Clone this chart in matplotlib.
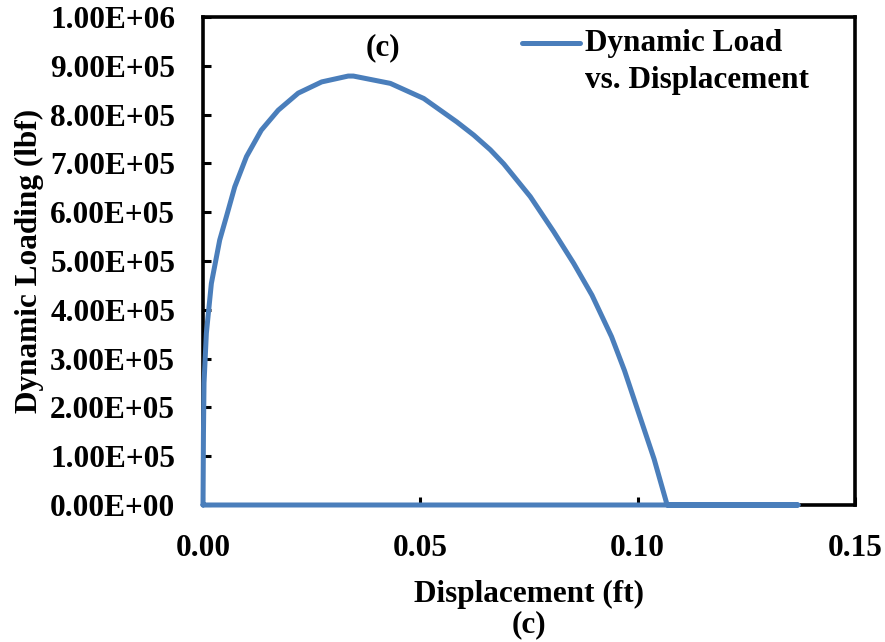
import matplotlib
matplotlib.use("Agg")
import matplotlib.pyplot as plt
from matplotlib.ticker import FuncFormatter

# Data (displacement in ft, dynamic loading in lbf)
disp = [0.0, 0.0001, 0.00023, 0.00077, 0.00192, 0.00384, 0.00538, 0.0073, 0.0100,
        0.0134, 0.0173, 0.0219, 0.0273, 0.0334, 0.0346, 0.0431, 0.0508, 0.0584,
        0.0623, 0.0661, 0.0692, 0.0753, 0.0807, 0.0853, 0.0895, 0.0940, 0.0970,
        0.1000, 0.1038, 0.1068,
        0.1369, 0.0]
load = [0.0, 1.47e5, 2.50e5, 3.52e5, 4.54e5, 5.43e5, 5.91e5, 6.52e5, 7.14e5,
        7.68e5, 8.09e5, 8.44e5, 8.67e5, 8.79e5, 8.79e5, 8.64e5, 8.33e5, 7.85e5,
        7.58e5, 7.28e5, 6.99e5, 6.32e5, 5.60e5, 4.95e5, 4.30e5, 3.45e5, 2.75e5,
        1.95e5, 0.94e5, 0.0,
        0.0, 0.0]
x_ticks = [0.00, 0.05, 0.10, 0.15]
y_ticks = [i * 1e5 for i in range(11)]
series_label = ["Dynamic Load", "vs. Displacement"]

plt.rcParams['font.family'] = ['Liberation Serif', 'DejaVu Serif']
plt.rcParams['font.weight'] = 'bold'

FS = 22.5
COLOR = '#4A7EBB'
fig = plt.figure(figsize=(8.85, 6.42), dpi=100)
ax = fig.add_axes([0.2294, 0.2134, 0.966 - 0.2294, 0.9735 - 0.2134])

ax.plot(disp, load, color=COLOR, lw=3.6, solid_capstyle='round',
        solid_joinstyle='round', zorder=3, clip_on=False)

ax.set_xlim(0, 0.15)
ax.set_ylim(0, 1e6)
ax.set_xticks(x_ticks)
ax.set_yticks(y_ticks)
ax.xaxis.set_major_formatter(FuncFormatter(lambda v, p: f"{v:.2f}"))
ax.yaxis.set_major_formatter(FuncFormatter(lambda v, p: f"{v:.2E}"))

ax.tick_params(direction='in', length=6, width=2.2, labelsize=FS)
ax.tick_params(axis='y', pad=20)
ax.tick_params(axis='x', pad=21)
for lab in ax.get_xticklabels() + ax.get_yticklabels():
    lab.set_fontweight('bold')
for sp in ax.spines.values():
    sp.set_linewidth(2.6)

ax.set_xlabel("Displacement (ft)\n(c)", fontsize=FS, fontweight='bold',
              linespacing=1.08, labelpad=12)
ax.set_ylabel("Dynamic Loading (lbf)", fontsize=FS, fontweight='bold', labelpad=4)

ax.text(0.0415, 9.38e5, "(c)", fontsize=FS, fontweight='bold', ha='center', va='center')

# Legend drawn in axes coordinates (handle aligned with first label line)
ax.plot([0.489, 0.578], [0.9467, 0.9467], transform=ax.transAxes, color=COLOR,
        lw=3.6, solid_capstyle='round', clip_on=False, zorder=4)
ax.text(0.586, 0.9447, series_label[0], transform=ax.transAxes, fontsize=FS,
        fontweight='bold', ha='left', va='center')
ax.text(0.586, 0.8709, series_label[1], transform=ax.transAxes, fontsize=FS,
        fontweight='bold', ha='left', va='center')

fig.savefig("out.png", dpi=100)
